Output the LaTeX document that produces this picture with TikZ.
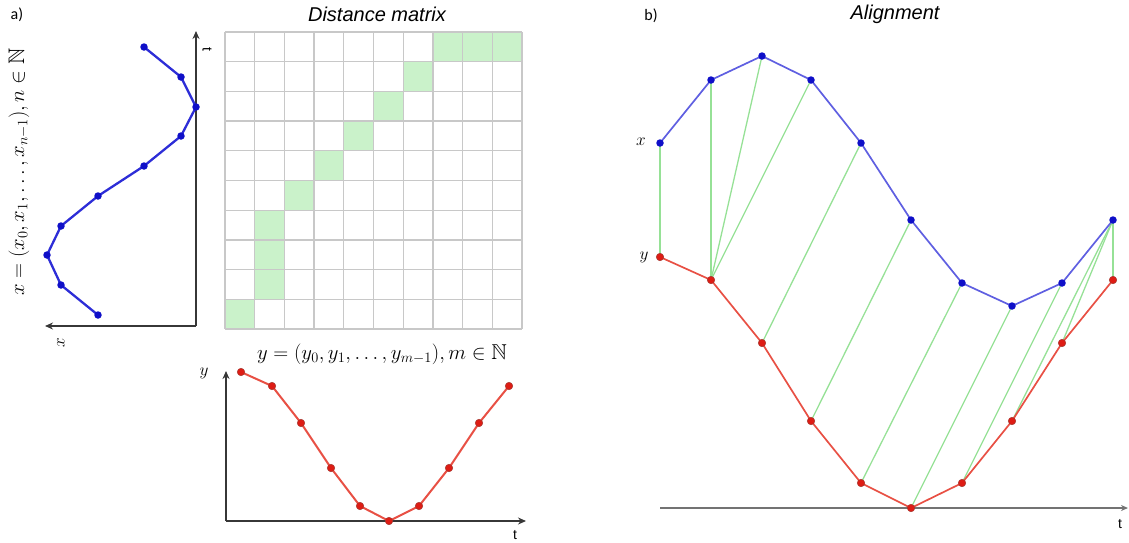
\documentclass[tikz,border=0pt]{standalone}
\usepackage{amssymb}
\usepackage{fontspec}
\newfontfamily\sansf{Liberation Sans}
\newfontfamily\calf{Carlito}
\usetikzlibrary{arrows.meta}
\definecolor{bl}{RGB}{45,45,215}
\definecolor{blr}{RGB}{95,95,225}
\definecolor{bldot}{RGB}{15,15,200}
\definecolor{rd}{RGB}{232,80,68}
\definecolor{rddot}{RGB}{222,28,20}
\definecolor{gr}{RGB}{150,225,150}
\definecolor{cellg}{RGB}{202,242,202}
\definecolor{gridc}{RGB}{200,200,200}
\definecolor{axc}{RGB}{55,55,55}
\begin{document}
\begin{tikzpicture}[x=1pt,y=-1pt,
  axis/.style={draw=axc,line width=2pt,-{Stealth[length=8pt,width=7pt]}},
  raxis/.style={draw=axc!70,line width=1.5pt,-{Stealth[length=7pt,width=6pt]}},
  bline/.style={draw=bl,line width=2.3pt,line join=round},
  rbline/.style={draw=blr,line width=1.7pt,line join=round},
  rline/.style={draw=rd,line width=1.7pt,line join=round},
  match/.style={draw=gr,line width=1.3pt},
  bdot/.style={circle,fill=bldot,inner sep=0pt,minimum size=7.5pt},
  rdot/.style={circle,fill=rddot,draw=rd!70!black,line width=0.5pt,inner sep=0pt,minimum size=7.5pt},
  ttl/.style={font=\fontsize{20}{22}\sansf\itshape},
  panel/.style={font=\fontsize{16}{18}\calf},
  tlab/.style={font=\fontsize{14}{15}\sansf},
  mlab/.style={font=\fontsize{19}{21}\selectfont},
  frm/.style={font=\fontsize{21.5}{24}\selectfont},
]
\useasboundingbox (0,0) rectangle (1129,542);

% ---------- titles ----------
\node[panel] (pa) at (17,15) {a)};
\node[panel] (pb) at (651,16) {b)};
\node[ttl] (tdm) at (377,14) {Distance matrix};
\node[ttl] (tal) at (895,14) {Alignment};

% ---------- distance matrix ----------
\def\cs{29.7}
\foreach \c/\r in {0/0,1/1,1/2,1/3,2/4,3/5,4/6,5/7,6/8,7/9,8/9,9/9}{
  \fill[cellg] ({225+\c*\cs},{329-\r*\cs}) rectangle ({225+(\c+1)*\cs},{329-(\r+1)*\cs});
}
\foreach \i in {0,...,10}{
  \draw[gridc,line width=1.3pt] ({225+\i*\cs},32) -- ({225+\i*\cs},329);
  \draw[gridc,line width=1.3pt] (225,{32+\i*\cs}) -- (522,{32+\i*\cs});
}

% ---------- left plot (x series) ----------
\coordinate (lo) at (196,326);
\coordinate (ltop) at (196,31);
\coordinate (lleft) at (45,326);
\draw[axis] (lo) -- (ltop);
\draw[axis] (lo) -- (lleft);
\node[tlab,rotate=-90] (lt) at (207,49) {t};
\node[mlab,rotate=90] (lx) at (61,343) {$x$};
\node[frm,rotate=90,font=\fontsize{22.5}{25}\selectfont] (fx) at (19,172) {$x=(x_0,x_1,\ldots,x_{n-1}),n\in\mathbb{N}$};
\foreach \n/\px/\py in {9/144/47,8/181/77,7/196/107,6/181/136,5/144/166,4/98/196,3/61/226,2/47/255,1/61/285,0/98/315}{
  \coordinate (lx\n) at (\px,\py);
}
\draw[bline] (lx0) -- (lx1) -- (lx2) -- (lx3) -- (lx4) -- (lx5) -- (lx6) -- (lx7) -- (lx8) -- (lx9);
\foreach \n in {0,...,9}{ \node[bdot] at (lx\n) {}; }

% ---------- bottom plot (y series) ----------
\coordinate (bo) at (226,521);
\coordinate (btop) at (226,371);
\coordinate (bright) at (526,521);
\draw[axis] (bo) -- (btop);
\draw[axis] (bo) -- (bright);
\node[tlab] (bt) at (515,535) {t};
\node[mlab] (by) at (204,373) {$y$};
\node[frm] (fy) at (382,354) {$y=(y_0,y_1,\ldots,y_{m-1}),m\in\mathbb{N}$};
\foreach \n/\px/\py in {0/241/372,1/272/386,2/301/423,3/331/468,4/360/506,5/389/521,6/419/506,7/449/468,8/479/423,9/509/386}{
  \coordinate (by\n) at (\px,\py);
}
\draw[rline,line width=2pt] (by0) -- (by1) -- (by2) -- (by3) -- (by4) -- (by5) -- (by6) -- (by7) -- (by8) -- (by9);
\foreach \n in {0,...,9}{ \node[rdot] at (by\n) {}; }

% ---------- right panel (alignment) ----------
\coordinate (ro) at (660,508);
\coordinate (rright) at (1128,508);
\draw[raxis] (ro) -- (rright);
\node[tlab] (rt) at (1120,524) {t};
\node[mlab] (rxl) at (641,142) {$x$};
\node[mlab] (ryl) at (644,257) {$y$};
\foreach \n/\px/\py in {0/660/143,1/711/80,2/762/56,3/811/80,4/861/143,5/911/220,6/962/283,7/1012/306,8/1062/283,9/1113/220}{
  \coordinate (ax\n) at (\px,\py);
}
\foreach \n/\px/\py in {0/660/257,1/711/280,2/762/343,3/811/421,4/861/483,5/911/508,6/962/483,7/1012/421,8/1062/343,9/1113/280}{
  \coordinate (ay\n) at (\px,\py);
}
\foreach \a/\b in {0/0,1/1,2/1,3/1,4/2,5/3,6/4,7/5,8/6,9/7,9/8,9/9}{
  \draw[match] (ax\a) -- (ay\b);
}
\draw[rbline] (ax0) -- (ax1) -- (ax2) -- (ax3) -- (ax4) -- (ax5) -- (ax6) -- (ax7) -- (ax8) -- (ax9);
\draw[rline] (ay0) -- (ay1) -- (ay2) -- (ay3) -- (ay4) -- (ay5) -- (ay6) -- (ay7) -- (ay8) -- (ay9);
\foreach \n in {0,...,9}{ \node[bdot] at (ax\n) {}; \node[rdot] at (ay\n) {}; }
\end{tikzpicture}
\end{document}
